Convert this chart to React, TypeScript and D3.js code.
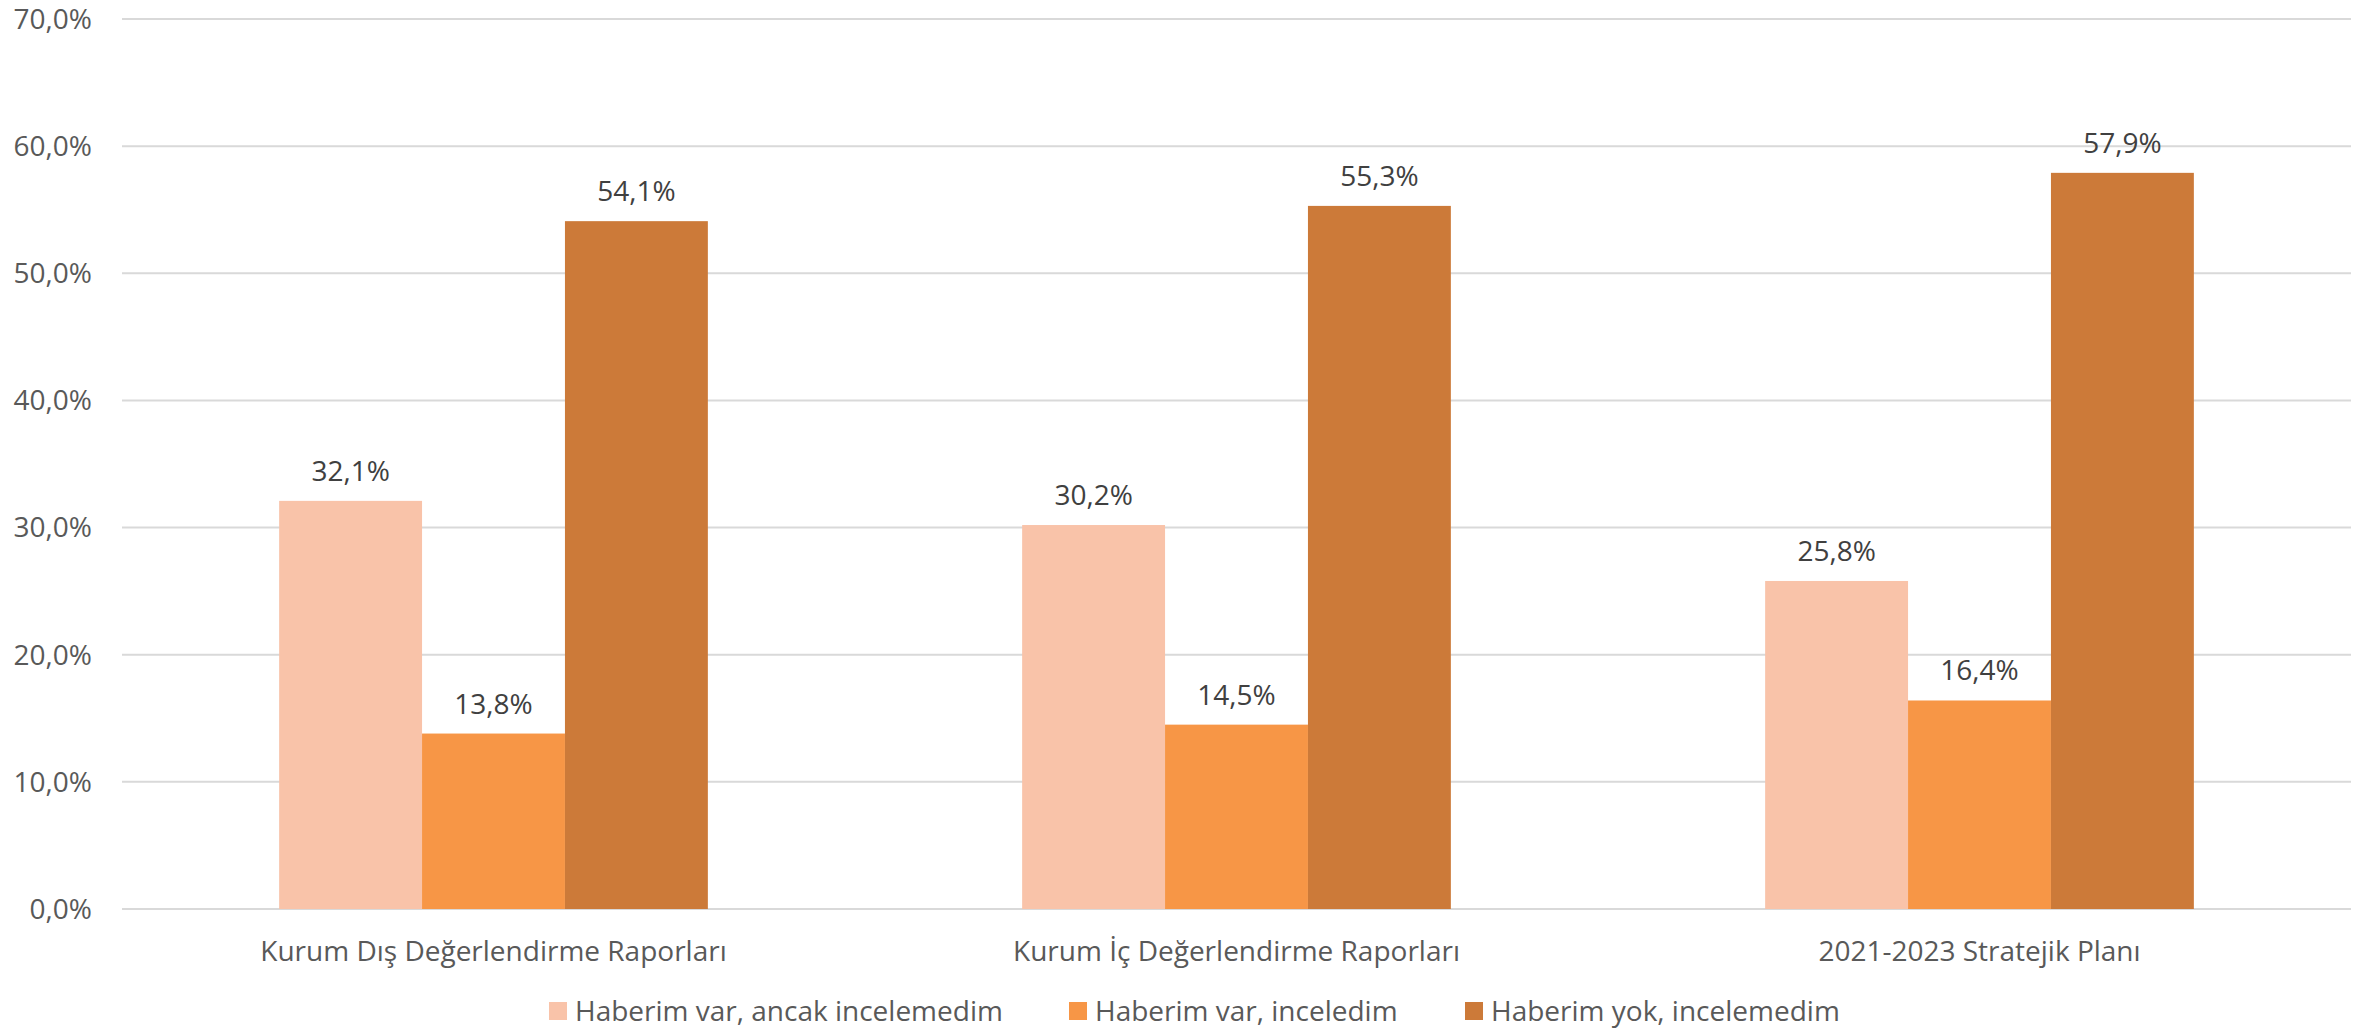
import { useEffect, useRef } from "react";
import * as d3 from "d3";

const categories = [
  "Kurum Dış Değerlendirme Raporları",
  "Kurum İç Değerlendirme Raporları",
  "2021-2023 Stratejik Planı",
];
const seriesNames = [
  "Haberim var, ancak incelemedim",
  "Haberim var, inceledim",
  "Haberim yok, incelemedim",
];
const seriesColors = ["#F9C3A9", "#F79646", "#CC7A39"];
const haberimVarAncak = [32.1, 30.2, 25.8];
const haberimVarInceledim = [13.8, 14.5, 16.4];
const haberimYok = [54.1, 55.3, 57.9];
const yTicks = [0, 10, 20, 30, 40, 50, 60, 70];

const fmt = (v: number) => v.toFixed(1).replace(".", ",") + "%";

export default function App() {
  const svgRef = useRef<SVGSVGElement>(null);

  useEffect(() => {
    if (!svgRef.current) return;
    const svg = d3.select(svgRef.current);
    svg.selectAll("*").remove();

    const width = 2367;
    const height = 1030;
    const margin = { top: 19, right: 16, bottom: 121, left: 122 };
    const font = "'Open Sans', 'Noto Sans', sans-serif";
    const fs = "28px";

    const values = [haberimVarAncak, haberimVarInceledim, haberimYok];

    const x0 = d3
      .scaleBand<string>()
      .domain(categories)
      .range([margin.left, width - margin.right])
      .paddingInner(0.423)
      .paddingOuter(0.2115);

    const x1 = d3
      .scaleBand<number>()
      .domain([0, 1, 2])
      .range([0, x0.bandwidth()]);

    const y = d3
      .scaleLinear()
      .domain([0, 70])
      .range([height - margin.bottom, margin.top]);

    // gridlines
    svg
      .append("g")
      .selectAll("line")
      .data(yTicks)
      .enter()
      .append("line")
      .attr("x1", margin.left)
      .attr("x2", width - margin.right)
      .attr("y1", d => y(d))
      .attr("y2", d => y(d))
      .attr("stroke", "#D9D9D9")
      .attr("stroke-width", 2);

    // y tick labels
    svg
      .append("g")
      .selectAll("text")
      .data(yTicks)
      .enter()
      .append("text")
      .attr("x", 92)
      .attr("y", d => y(d))
      .attr("dy", "0.35em")
      .attr("text-anchor", "end")
      .attr("font-family", font)
      .attr("font-size", fs)
      .attr("fill", "#595959")
      .text(d => fmt(d));

    // bars + labels
    categories.forEach((cat, ci) => {
      const g = svg.append("g").attr("transform", `translate(${x0(cat)},0)`);
      values.forEach((series, si) => {
        const v = series[ci];
        g.append("rect")
          .attr("x", x1(si) as number)
          .attr("y", y(v))
          .attr("width", x1.bandwidth())
          .attr("height", y(0) - y(v))
          .attr("fill", seriesColors[si]);
        g.append("text")
          .attr("x", (x1(si) as number) + x1.bandwidth() / 2)
          .attr("y", y(v) - 20)
          .attr("text-anchor", "middle")
          .attr("font-family", font)
          .attr("font-size", fs)
          .attr("fill", "#404040")
          .text(fmt(v));
      });
    });

    // category labels
    svg
      .append("g")
      .selectAll("text")
      .data(categories)
      .enter()
      .append("text")
      .attr("x", d => (x0(d) as number) + x0.bandwidth() / 2)
      .attr("y", 961)
      .attr("text-anchor", "middle")
      .attr("font-family", font)
      .attr("font-size", fs)
      .attr("fill", "#595959")
      .text(d => d);

    // legend
    const legendX = [549, 1069, 1465];
    seriesNames.forEach((name, i) => {
      const item = svg.append("g").attr("transform", `translate(${legendX[i]},1002)`);
      item
        .append("rect")
        .attr("width", 18)
        .attr("height", 18)
        .attr("fill", seriesColors[i]);
      item
        .append("text")
        .attr("x", 26)
        .attr("y", 9)
        .attr("dy", "0.35em")
        .attr("font-family", font)
        .attr("font-size", fs)
        .attr("fill", "#595959")
        .text(name);
    });
  }, []);

  return (
    <div style={{ position: "absolute", left: 0, top: 0, width: 2367, height: 1030, background: "#fff" }}>
      <svg ref={svgRef} width={2367} height={1030} viewBox="0 0 2367 1030" />
    </div>
  );
}
